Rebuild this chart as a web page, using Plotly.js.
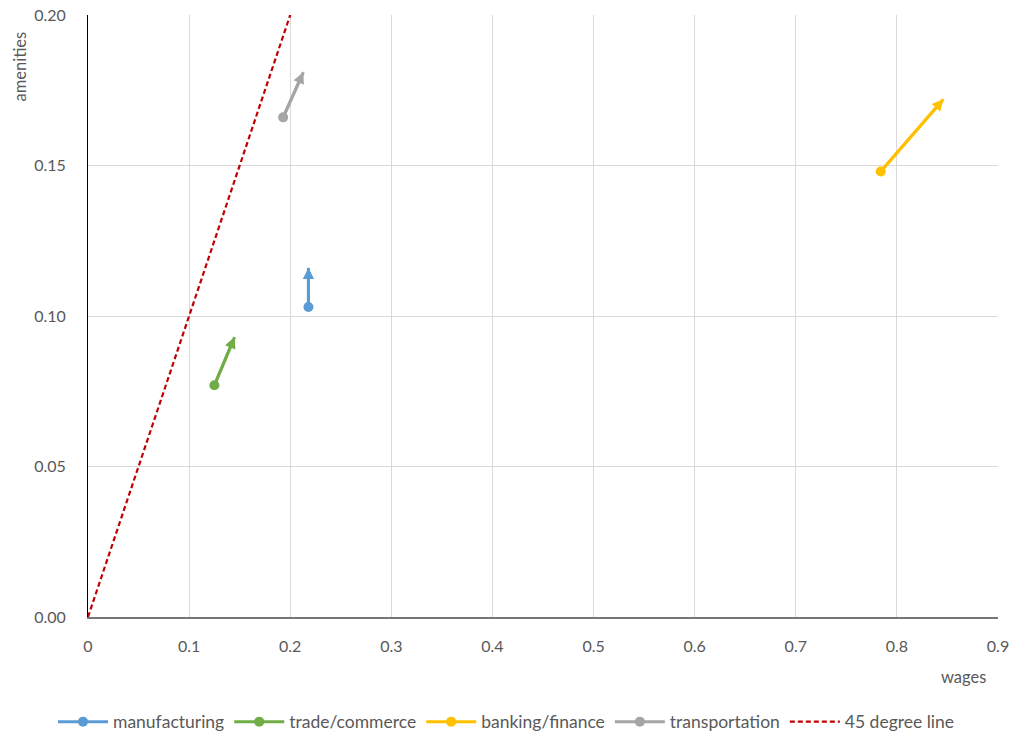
<!DOCTYPE html>
<html>
<head>
<meta charset="utf-8">
<script src="https://cdn.plot.ly/plotly-3.0.1.min.js"></script>
<style>html,body{margin:0;padding:0;background:#fff;}#chart{width:1013px;height:738px;}</style>
</head>
<body>
<div id="chart"></div>
<script>
// Sector movements: start (wages, amenities) -> end (wages, amenities)
const sectors = ["manufacturing", "trade/commerce", "banking/finance", "transportation"];
const colors = ["#5b9bd5", "#70ad47", "#ffc000", "#a5a5a5"];
const startWages = [0.218, 0.125, 0.784, 0.193];
const startAmenities = [0.103, 0.077, 0.148, 0.166];
const endWages = [0.218, 0.145, 0.846, 0.213];
const endAmenities = [0.116, 0.093, 0.172, 0.181];

const diagX = [0, 0.21];
const diagY = [0, 0.21];

const xTicks = [0, 0.1, 0.2, 0.3, 0.4, 0.5, 0.6, 0.7, 0.8, 0.9];
const xTickText = ["0", "0.1", "0.2", "0.3", "0.4", "0.5", "0.6", "0.7", "0.8", "0.9"];
const yTicks = [0, 0.05, 0.10, 0.15, 0.20];
const yTickText = ["0.00", "0.05", "0.10", "0.15", "0.20"];

const font = "Lato, 'Open Sans', sans-serif";
const textColor = "#595959";

const traces = [];
const arrowAnnotations = [];
sectors.forEach((name, i) => {
  // movement line from start point to end point
  traces.push({
    type: "scatter",
    mode: "lines",
    name: name,
    legendgroup: name,
    showlegend: false,
    x: [startWages[i], endWages[i]],
    y: [startAmenities[i], endAmenities[i]],
    line: {color: colors[i], width: 3},
    cliponaxis: false
  });
  // start circle (also the legend entry)
  traces.push({
    type: "scatter",
    mode: "lines+markers",
    name: name,
    legendgroup: name,
    showlegend: true,
    x: [startWages[i]],
    y: [startAmenities[i]],
    line: {color: colors[i], width: 3},
    marker: {color: colors[i], symbol: "circle", size: 10, line: {width: 0}},
    cliponaxis: false
  });
  // arrowhead at end point
  arrowAnnotations.push({
    xref: "x", yref: "y", axref: "x", ayref: "y",
    x: endWages[i], y: endAmenities[i],
    ax: startWages[i], ay: startAmenities[i],
    text: "", showarrow: true,
    arrowhead: 2, arrowsize: 0.75, arrowwidth: 3,
    arrowcolor: colors[i], standoff: 0, startstandoff: 0
  });
});

traces.push({
  type: "scatter",
  mode: "lines",
  name: "45 degree line",
  x: diagX,
  y: diagY,
  line: {color: "#c00000", width: 2.2, dash: "5px,3px"}
});

const layout = {
  width: 1013,
  height: 738,
  margin: {l: 88, r: 15, t: 15, b: 121, autoexpand: false},
  paper_bgcolor: "#ffffff",
  plot_bgcolor: "#ffffff",
  font: {family: font, color: textColor, size: 16},
  showlegend: true,
  legend: {
    orientation: "h",
    xref: "container", yref: "container",
    x: 0.5, xanchor: "center",
    y: 0.022, yanchor: "middle",
    font: {family: font, size: 17.5, color: textColor},
    itemwidth: 50,
    tracegroupgap: 0
  },
  xaxis: {
    range: [0, 0.9],
    tickvals: xTicks,
    ticktext: xTickText,
    showgrid: true,
    gridcolor: "#d9d9d9",
    gridwidth: 1,
    zeroline: false,
    showline: true,
    linecolor: "#767676",
    linewidth: 1.5,
    ticks: "",
    ticklabelstandoff: 14,
    tickfont: {size: 16, color: textColor}
  },
  yaxis: {
    range: [0, 0.2],
    tickvals: yTicks,
    ticktext: yTickText,
    showgrid: true,
    gridcolor: "#d9d9d9",
    gridwidth: 1,
    zeroline: false,
    showline: true,
    linecolor: "#000000",
    linewidth: 1,
    ticks: "",
    ticklabelstandoff: 18,
    tickfont: {size: 16, color: textColor}
  },
  annotations: arrowAnnotations.concat([
    {text: "wages", xref: "paper", yref: "paper", x: 0.962, y: -0.1, xanchor: "center", yanchor: "middle",
     showarrow: false, font: {family: font, size: 16.5, color: textColor}},
    {text: "amenities", xref: "paper", yref: "paper", x: -0.075, y: 0.914, xanchor: "center", yanchor: "middle",
     textangle: -90, showarrow: false, font: {family: font, size: 16.5, color: textColor}}
  ])
};

Plotly.newPlot("chart", traces, layout, {displayModeBar: false, staticPlot: true});
</script>
</body>
</html>
